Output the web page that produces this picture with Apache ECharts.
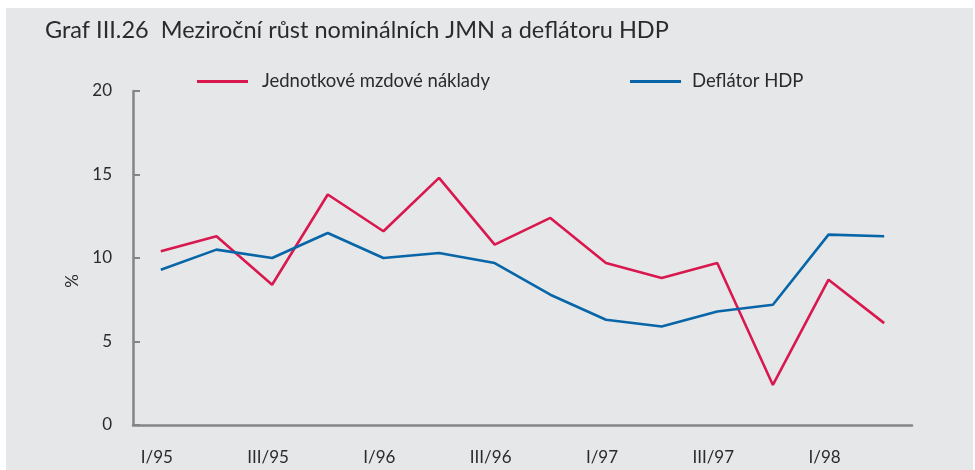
<!DOCTYPE html>
<html><head><meta charset="utf-8">
<script src="https://cdn.jsdelivr.net/npm/echarts@6/dist/echarts.min.js"></script>
<style>html,body{margin:0;padding:0;background:#fff}#c{width:975px;height:470px}</style>
</head><body><div id="c"></div>
<script>
const titleText = 'Graf III.26  Meziroční růst nominálních JMN a deflátoru HDP';
const categories = ['I/95','II/95','III/95','IV/95','I/96','II/96','III/96','IV/96','I/97','II/97','III/97','IV/97','I/98','II/98'];
const seriesNames = ['Jednotkové mzdové náklady','Deflátor HDP'];
const jmn = [10.4, 11.3, 8.4, 13.8, 11.6, 14.8, 10.8, 12.4, 9.7, 8.8, 9.7, 2.4, 8.7, 6.1];
const deflator = [9.3, 10.5, 10.0, 11.5, 10.0, 10.3, 9.7, 7.8, 6.3, 5.9, 6.8, 7.2, 11.4, 11.3];
const yName = '%';

const FONT = 'Lato';
const TXT = '#2b2b2b';
const AX = '#858585';
const RED = '#d9184f';
const BLUE = '#0866a8';

const chart = echarts.init(document.getElementById('c'), null, {renderer:'canvas'});
chart.setOption({
  backgroundColor: '#ffffff',
  animation: false,
  graphic: [{type:'rect', z:-10, shape:{x:6,y:8,width:967,height:462}, style:{fill:'#e6e7e9'}}],
  title: {text: titleText, left: 40, top: 13, textStyle:{fontFamily:FONT, fontSize:23.5, fontWeight:'normal', color:TXT}},
  legend: [
    {data:[seriesNames[0]], left:197, top:72, padding:0, icon:'rect', itemWidth:51, itemHeight:3,
     textStyle:{fontFamily:FONT, fontSize:18.5, color:TXT, padding:[0,0,0,9]}},
    {data:[seriesNames[1]], left:630, top:72, padding:0, icon:'rect', itemWidth:51, itemHeight:3,
     textStyle:{fontFamily:FONT, fontSize:18.5, color:TXT, padding:[0,0,0,6]}}
  ],
  grid: {left:133, right:63, top:91, bottom:45, containLabel:false},
  xAxis: {
    type:'category', data:categories, boundaryGap:true,
    axisLine:{lineStyle:{color:AX, width:2.5}},
    axisTick:{inside:true, length:7, lineStyle:{color:AX, width:2}, interval:0},
    axisLabel:{interval:1, margin:24, fontFamily:FONT, fontSize:17, color:TXT, padding:[0,8,0,0]},
    splitLine:{show:false}
  },
  yAxis: {
    type:'value', min:0, max:20, interval:5,
    name:yName, nameLocation:'middle', nameGap:52, nameRotate:90,
    nameTextStyle:{fontFamily:FONT, fontSize:17, color:TXT, padding:[0,46,0,0]},
    axisLine:{show:true, lineStyle:{color:AX, width:2.5}},
    axisTick:{show:true, inside:true, length:7, lineStyle:{color:AX, width:2}},
    axisLabel:{margin:21, fontFamily:FONT, fontSize:17, color:TXT},
    splitLine:{show:false}
  },
  series: [
    {name:seriesNames[0], type:'line', data:jmn, symbol:'none', color:RED, lineStyle:{color:RED, width:2.6}},
    {name:seriesNames[1], type:'line', data:deflator, symbol:'none', color:BLUE, lineStyle:{color:BLUE, width:2.6}}
  ]
});
</script></body></html>
